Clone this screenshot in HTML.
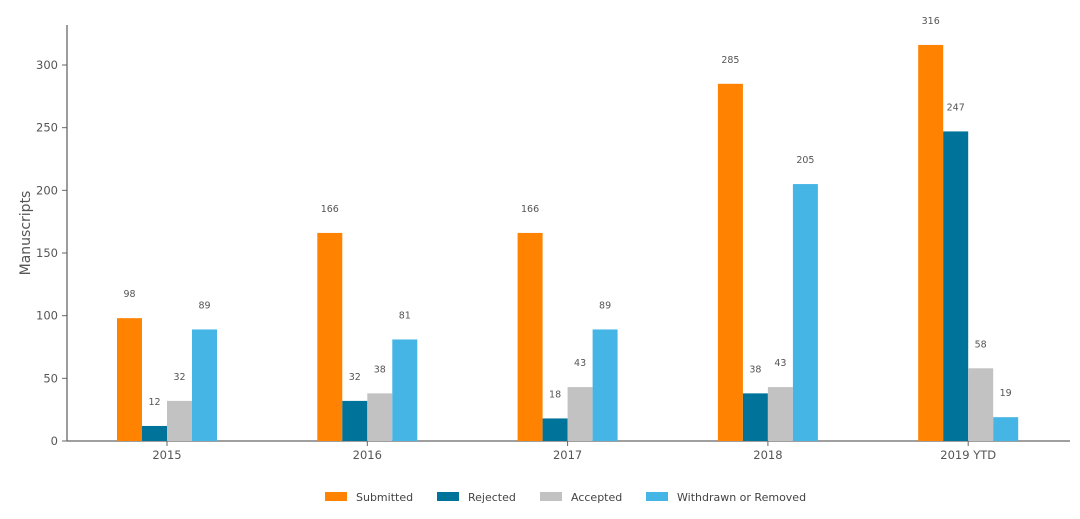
<!DOCTYPE html>
<html><head><meta charset="utf-8"><style>
body{margin:0;background:#fff;width:1080px;height:515px;overflow:hidden;font-family:"DejaVu Sans","Liberation Sans",sans-serif}
text{font-family:"DejaVu Sans","Liberation Sans",sans-serif}
</style></head><body>
<svg id="chart" width="1080" height="515" xmlns="http://www.w3.org/2000/svg"></svg>
<script>
const categories=["2015","2016","2017","2018","2019 YTD"];
const seriesNames=["Submitted","Rejected","Accepted","Withdrawn or Removed"];
const submitted=[98,166,166,285,316];
const rejected=[12,32,18,38,247];
const accepted=[32,38,43,43,58];
const withdrawn=[89,81,89,205,19];
const yTicks=[0,50,100,150,200,250,300];
const colors=["#ff8200","#00739a","#c2c2c2","#45b5e6"];
const series=[submitted,rejected,accepted,withdrawn];
const NS="http://www.w3.org/2000/svg";
const svg=document.getElementById('chart');
const x0=67,x1=1070,yBase=441,yTop=25;
const y=v=>yBase-v*(376/300);
const xc=i=>167+i*200.3;
const bw=25;
function mk(t,a){const e=document.createElementNS(NS,t);for(const k in a)e.setAttribute(k,a[k]);svg.appendChild(e);return e;}
let ax=mk('line',{x1:x0,y1:yTop,x2:x0,y2:yBase,stroke:'#666','stroke-width':1.3});


let bx=mk('line',{x1:x0,y1:yBase,x2:x1,y2:yBase,stroke:'#666','stroke-width':1.3});


yTicks.forEach(t=>{
 let l=mk('line',{x1:x0-5,y1:y(t),x2:x0,y2:y(t),stroke:'#666'});
 
 
 let tx=mk('text',{x:x0-9,y:y(t)+4,'text-anchor':'end','font-size':11.5,fill:'#555'});
 tx.textContent=t;
 
 
});
let yt=mk('text',{x:30,y:233,'text-anchor':'middle','font-size':14,fill:'#555',transform:'rotate(-90 30 233)'});
yt.textContent='Manuscripts';


categories.forEach((c,i)=>{
 let l=mk('line',{x1:xc(i),y1:yBase,x2:xc(i),y2:yBase+5,stroke:'#666'});
 
 
 let tx=mk('text',{x:xc(i),y:yBase+18,'text-anchor':'middle','font-size':11.5,fill:'#555'});
 tx.textContent=c;
 
 
 series.forEach((s,j)=>{
  const bx0=xc(i)-50+j*bw;
  let r=mk('rect',{x:bx0,y:y(s[i]),width:bw,height:yBase-y(s[i]),fill:colors[j]});
  
  
  let v=mk('text',{x:bx0+bw/2,y:y(s[i])-21,'text-anchor':'middle','font-size':9.5,fill:'#555'});
  v.textContent=s[i];
  
  
 });
});
const lx=[325,437,540,646];
seriesNames.forEach((n,j)=>{
 let r=mk('rect',{x:lx[j],y:492,width:22,height:9,fill:colors[j]});
 
 
 let t=mk('text',{x:lx[j]+31,y:501,'font-size':11,fill:'#444'});
 t.textContent=n;
 
 
});
</script>
</body></html>
